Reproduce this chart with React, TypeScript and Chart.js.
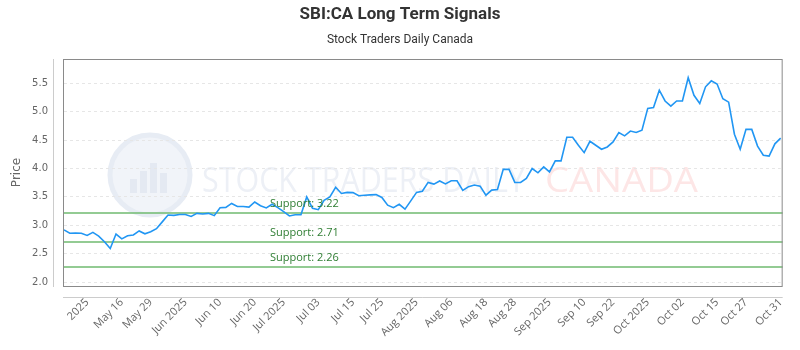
import React, { useEffect, useRef } from 'react';
import { Chart, registerables } from 'chart.js';

Chart.register(...registerables);

const TITLE = 'SBI:CA Long Term Signals';
const SUBTITLE = 'Stock Traders Daily Canada';
const Y_TITLE = 'Price';

const prices = [
  2.92, 2.86, 2.865, 2.86, 2.82, 2.875, 2.81, 2.71, 2.59, 2.845,
  2.76, 2.815, 2.83, 2.9, 2.85, 2.885, 2.94, 3.06, 3.18, 3.175,
  3.19, 3.19, 3.155, 3.21, 3.2, 3.21, 3.17, 3.31, 3.315, 3.385,
  3.33, 3.33, 3.32, 3.41, 3.345, 3.305, 3.37, 3.31, 3.24, 3.165,
  3.185, 3.185, 3.5, 3.3, 3.275, 3.44, 3.5, 3.67, 3.56, 3.58,
  3.575, 3.52, 3.53, 3.535, 3.54, 3.49, 3.355, 3.31, 3.37, 3.285,
  3.43, 3.58, 3.6, 3.755, 3.725, 3.78, 3.73, 3.785, 3.785, 3.615,
  3.68, 3.71, 3.69, 3.53, 3.62, 3.63, 3.985, 3.985, 3.755, 3.755,
  3.825, 4.0, 3.925, 4.03, 3.94, 4.135, 4.135, 4.55, 4.55, 4.41,
  4.28, 4.48, 4.41, 4.34, 4.38, 4.47, 4.635, 4.575, 4.66, 4.635,
  4.675, 5.06, 5.075, 5.38, 5.19, 5.1, 5.19, 5.19, 5.6, 5.29,
  5.145, 5.44, 5.545, 5.49, 5.23, 5.17, 4.605, 4.34, 4.69, 4.69,
  4.395, 4.235, 4.22, 4.435, 4.535,
];

const tickLabels = [
  '2025', 'May 16', 'May 29', 'Jun 2025', 'Jun 10', 'Jun 20', 'Jul 2025',
  'Jul 03', 'Jul 15', 'Jul 25', 'Aug 2025', 'Aug 06', 'Aug 18', 'Aug 28',
  'Sep 2025', 'Sep 10', 'Sep 22', 'Oct 2025', 'Oct 02', 'Oct 15', 'Oct 27', 'Oct 31',
];

const supportLevels = [3.22, 2.71, 2.26];
const yTicks = [2.0, 2.5, 3.0, 3.5, 4.0, 4.5, 5.0, 5.5];
const Y_MIN = 1.93;
const Y_MAX = 5.93;

// category labels: one per point, only some are shown
const FIRST_TICK = 4;
const labels: string[] = prices.map(() => '');
tickLabels.forEach((t, j) => {
  const idx = Math.round(FIRST_TICK + (j * (prices.length - 1 - FIRST_TICK)) / (tickLabels.length - 1));
  labels[idx] = t;
});

const decor = {
  id: 'decor',
  beforeDraw(chart: any) {
    const { ctx, chartArea: a } = chart;
    ctx.save();
    ctx.fillStyle = '#ffffff';
    ctx.fillRect(0, 0, chart.width, chart.height);

    // watermark logo
    const cx = a.left + 86;
    const cy = a.top + 116;
    ctx.beginPath();
    ctx.arc(cx, cy, 40, 0, Math.PI * 2);
    ctx.fillStyle = '#f1f4f9';
    ctx.fill();
    ctx.lineWidth = 5;
    ctx.strokeStyle = '#e7ecf4';
    ctx.stroke();
    ctx.fillStyle = '#e4e9f2';
    const bars = [14, 22, 30, 20];
    bars.forEach((h, i) => {
      ctx.fillRect(cx - 20 + i * 10, cy + 18 - h, 7, h);
    });

    // watermark text
    ctx.textBaseline = 'alphabetic';
    ctx.textAlign = 'left';
    ctx.font = '34px "Open Sans"';
    const t1 = 'STOCK TRADERS DAILY';
    const w1 = ctx.measureText(t1).width;
    ctx.save();
    ctx.translate(a.left + 138, a.top + 133);
    ctx.scale(323 / w1, 1);
    ctx.fillStyle = '#edf0f6';
    ctx.fillText(t1, 0, 0);
    ctx.restore();
    const t2 = 'CANADA';
    const w2 = ctx.measureText(t2).width;
    ctx.save();
    ctx.translate(a.left + 481, a.top + 133);
    ctx.scale(153 / w2, 1);
    ctx.fillStyle = '#fde6e6';
    ctx.fillText(t2, 0, 0);
    ctx.restore();
    ctx.restore();
  },
  beforeDatasetsDraw(chart: any) {
    const { ctx, chartArea: a, scales } = chart;
    ctx.save();
    ctx.strokeStyle = 'rgba(120,190,120,0.8)';
    ctx.lineWidth = 2;
    supportLevels.forEach((lv) => {
      const y = Math.round(scales.y.getPixelForValue(lv));
      ctx.beginPath();
      ctx.moveTo(a.left - 1, y);
      ctx.lineTo(a.right + 2, y);
      ctx.stroke();
    });
    ctx.restore();
  },
  afterDatasetsDraw(chart: any) {
    const { ctx, chartArea: a, scales } = chart;
    ctx.save();
    // support labels
    ctx.fillStyle = '#2e7d32';
    ctx.font = '11px "Open Sans"';
    ctx.textAlign = 'left';
    ctx.textBaseline = 'middle';
    supportLevels.forEach((lv) => {
      const y = scales.y.getPixelForValue(lv);
      ctx.fillText('Support: ' + lv.toFixed(2), a.left + 206, y - 9);
    });

    // plot box
    ctx.strokeStyle = '#8a8a8a';
    ctx.lineWidth = 1;
    ctx.strokeRect(a.left - 0.5, a.top + 0.5, a.right - a.left + 2, a.bottom - a.top);

    // offset axis lines
    ctx.strokeStyle = '#cccccc';
    ctx.beginPath();
    ctx.moveTo(a.left - 10.5, a.top);
    ctx.lineTo(a.left - 10.5, a.bottom + 1);
    ctx.stroke();
    ctx.beginPath();
    ctx.moveTo(a.left - 1, a.bottom + 11.5);
    ctx.lineTo(a.right + 2, a.bottom + 11.5);
    ctx.stroke();

    // titles
    ctx.fillStyle = '#333333';
    ctx.textAlign = 'center';
    ctx.textBaseline = 'middle';
    ctx.font = 'bold 17px Roboto';
    ctx.fillText(TITLE, 400, 15);
    ctx.font = '12px Roboto';
    ctx.fillText(SUBTITLE, 400, 40);

    // y axis title
    ctx.save();
    ctx.translate(17, (a.top + a.bottom) / 2);
    ctx.rotate(-Math.PI / 2);
    ctx.fillStyle = '#666666';
    ctx.font = '12px "DejaVu Sans"';
    ctx.fillText(Y_TITLE, 0, 0);
    ctx.restore();
    ctx.restore();
  },
};

export default function App() {
  const ref = useRef<HTMLCanvasElement>(null);
  useEffect(() => {
    document.body.style.margin = '0';
    const chart = new Chart(ref.current as HTMLCanvasElement, {
      type: 'line',
      data: {
        labels,
        datasets: [
          {
            data: prices,
            borderColor: '#2196f3',
            borderWidth: 1.6,
            pointRadius: 0,
            tension: 0,
            fill: false,
          },
        ],
      },
      options: {
        responsive: false,
        animation: false,
        layout: { padding: { top: 59, right: 12, left: 0, bottom: 0 } },
        plugins: {
          legend: { display: false },
          tooltip: { enabled: false },
          title: { display: false },
        },
        scales: {
          x: {
            grid: { display: false, drawTicks: false },
            border: { display: false },
            ticks: {
              autoSkip: false,
              maxRotation: 45,
              minRotation: 45,
              padding: 10,
              color: '#666666',
              font: { family: 'Open Sans', size: 11 },
            },
            afterFit: (s: any) => {
              s.height = 64;
            },
          },
          y: {
            min: Y_MIN,
            max: Y_MAX,
            grid: { color: '#e6e6e6', drawTicks: false },
            border: { display: false, dash: [3, 3] },
            afterBuildTicks: (s: any) => {
              s.ticks = yTicks.map((v) => ({ value: v }));
            },
            ticks: {
              padding: 16,
              color: '#666666',
              font: { family: 'DejaVu Sans', size: 10 },
              callback: (v: any) => Number(v).toFixed(1),
            },
            afterFit: (s: any) => {
              s.width = 64;
            },
          },
        },
      } as any,
      plugins: [decor],
    });
    return () => chart.destroy();
  }, []);
  return (
    <div style={{ width: 800, height: 350 }}>
      <canvas ref={ref} width={800} height={350} style={{ display: 'block' }} />
    </div>
  );
}
